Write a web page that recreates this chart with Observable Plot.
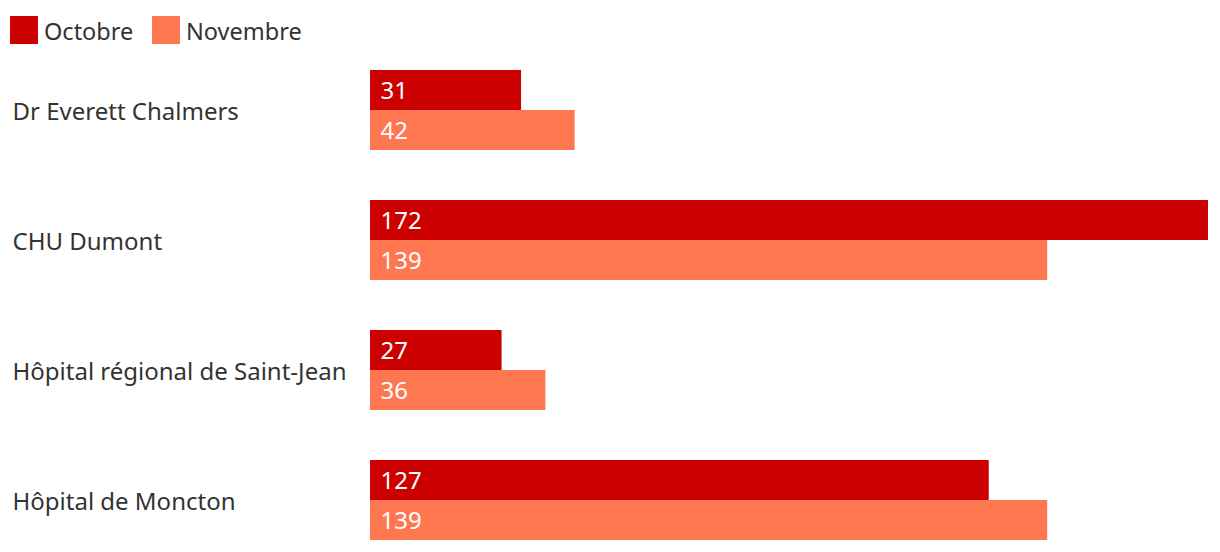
<!DOCTYPE html>
<html>
<head>
<meta charset="utf-8">
<script src="https://cdn.jsdelivr.net/npm/d3@7"></script>
<script src="https://cdn.jsdelivr.net/npm/@observablehq/plot@0.6"></script>
<style>
  body { margin: 0; background: #fff; font-family: "Noto Sans", sans-serif; color: #333; }
  #legend { position: relative; height: 60px; }
  .sw { position: absolute; top: 16px; width: 28px; height: 28px; }
  .lb { position: absolute; top: 14px; font-size: 23.5px; line-height: 34px; color: #333; }
</style>
</head>
<body>
<div id="legend"></div>
<div id="chart"></div>
<script>
const hospitals = ["Dr Everett Chalmers", "CHU Dumont", "Hôpital régional de Saint-Jean", "Hôpital de Moncton"];
const months = ["Octobre", "Novembre"];
const octobre = [31, 172, 27, 127];
const novembre = [42, 139, 36, 139];
const colors = ["#cc0000", "#ff7750"];

const data = [];
hospitals.forEach((h, i) => {
  data.push({hospital: h, month: months[0], value: octobre[i]});
  data.push({hospital: h, month: months[1], value: novembre[i]});
});

const legend = document.getElementById("legend");
const legendX = [10, 152];
months.forEach((m, i) => {
  const sw = document.createElement("div");
  sw.className = "sw"; sw.style.left = legendX[i] + "px"; sw.style.background = colors[i];
  const lb = document.createElement("div");
  lb.className = "lb"; lb.style.left = (legendX[i] + 34) + "px"; lb.textContent = m;
  legend.appendChild(sw); legend.appendChild(lb);
});

const chart = Plot.plot({
  width: 1220,
  height: 492,
  marginTop: 10,
  marginBottom: 12,
  marginLeft: 370,
  marginRight: 12,
  style: {fontFamily: "Noto Sans, sans-serif", fontSize: "24px", color: "#333"},
  x: {domain: [0, 172], axis: null},
  y: {domain: months, padding: 0, axis: null},
  fy: {domain: hospitals, paddingInner: 50/130, paddingOuter: 0, axis: null},
  color: {domain: months, range: colors},
  marks: [
    Plot.barX(data, {fy: "hospital", y: "month", x: "value", fill: "month"}),
    Plot.text(data, {fy: "hospital", y: "month", x: 0, text: d => String(d.value), textAnchor: "start", dx: 10, dy: 1, fill: "white", fontSize: 24}),
    Plot.text(hospitals, {fy: d => d, text: d => d, frameAnchor: "left", textAnchor: "start", dx: -358, dy: 2, fill: "#333", fontSize: 24})
  ]
});
document.getElementById("chart").appendChild(chart);
</script>
</body>
</html>
